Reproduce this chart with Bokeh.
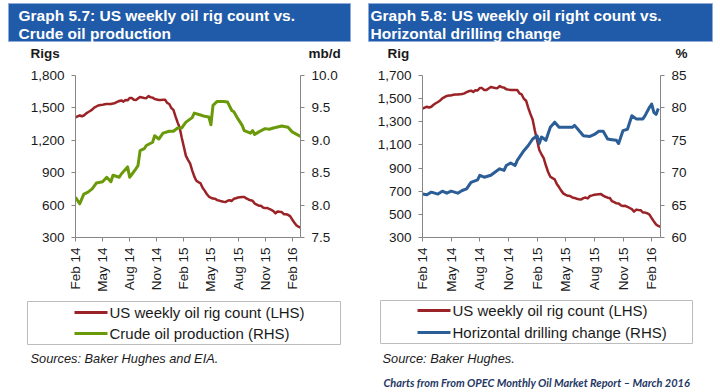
import math
import pandas as pd
from bokeh.plotting import figure
from bokeh.models import (Range1d, LinearAxis, FixedTicker, NumeralTickFormatter,
                          DatetimeTickFormatter)
from bokeh.core.properties import value
from bokeh.layouts import row, column
from bokeh.embed import file_html
from bokeh.resources import INLINE

# ---------------- data ----------------
week_start = "2014-02-07"
# US weekly oil rig count (Baker Hughes), weekly from Feb 7 2014
rig_count = [1413, 1422, 1430, 1423,
             1430, 1447, 1460, 1471,
             1484, 1502, 1513, 1523,
             1527, 1528, 1534, 1536, 1536,
             1537, 1540, 1546, 1556,
             1564, 1569, 1558, 1573,
             1570, 1592, 1591, 1575, 1574,
             1588, 1601, 1596, 1592,
             1590, 1609, 1599, 1595, 1582,
             1578, 1574, 1574, 1575,
             1575, 1546, 1536, 1499,
             1482, 1421, 1366, 1317, 1223,
             1140, 1056, 1019, 986,
             922, 866, 825, 813,
             802, 760, 734, 703,
             679, 668, 660, 659, 646,
             642, 635, 631, 628,
             640, 645, 638, 659, 664,
             670, 672, 674, 675,
             662, 652, 644, 641,
             614, 605, 595, 594, 578,
             572, 574, 564, 555,
             545, 524, 541, 538,
             536, 516, 515, 510, 498,
             467, 439, 413, 400,
             392]

# Crude oil production (mb/d): week number (from Feb 7 2014) and value
crude_week = [0, 2, 4, 6, 8, 10, 13, 15, 17, 18, 21, 22, 25, 26, 29, 30, 31, 33, 34,
              37, 38, 40, 42, 45, 47, 49, 51, 53, 56, 57, 60, 62, 64, 65, 66, 68, 71,
              73, 75, 76, 78, 80, 81, 84, 85, 86, 88, 91, 93, 95, 99, 102, 104, 108]
crude_prod = [8.12, 8.02, 8.17, 8.20, 8.25, 8.34, 8.36, 8.43, 8.36, 8.46, 8.43, 8.48,
              8.59, 8.43, 8.56, 8.61, 8.84, 8.87, 8.92, 8.97, 9.07, 9.02, 9.11, 9.14,
              9.14, 9.19, 9.19, 9.28, 9.35, 9.42, 9.39, 9.37, 9.36, 9.24, 9.54, 9.60,
              9.60, 9.59, 9.46, 9.44, 9.33, 9.23, 9.15, 9.11, 9.15, 9.09, 9.13, 9.18,
              9.17, 9.19, 9.22, 9.20, 9.13, 9.06]

# Horizontal drilling share (%): week number and value
horiz_week = [0, 2, 4, 7, 9, 11, 13, 16, 18, 20, 22, 25, 26, 28, 31, 33, 35, 37, 38,
              40, 42, 43, 46, 48, 50, 52, 53, 54, 56, 58, 60, 62, 65, 68, 69, 71, 73,
              76, 78, 80, 82, 84, 86, 88, 89, 91, 93, 95, 97, 100, 101, 103, 104, 105,
              106, 107]
horiz_share = [66.7, 66.6, 67.0, 66.7, 67.15, 66.84, 67.15, 66.84, 67.25, 67.5, 68.5,
               68.9, 69.6, 69.3, 69.6, 70.1, 70.6, 70.35, 71.1, 71.5, 71.1, 71.9, 73.4,
               74.2, 75.2, 75.7, 74.5, 75.5, 75.0, 77.0, 77.8, 77.0, 77.0, 77.0, 77.3,
               76.5, 75.7, 75.6, 75.9, 76.4, 76.4, 75.2, 75.1, 75.0, 74.5, 76.5, 76.7,
               78.8, 78.3, 78.3, 78.8, 80.1, 80.6, 79.3, 79.0, 79.9]

tick_dates = ["2014-02-07", "2014-05-09", "2014-08-08", "2014-11-07", "2015-02-06",
              "2015-05-08", "2015-08-07", "2015-11-06", "2016-02-05"]

left_lhs_ticks = [300, 600, 900, 1200, 1500, 1800]
left_rhs_ticks = [7.5, 8.0, 8.5, 9.0, 9.5, 10.0]
right_lhs_ticks = [300, 500, 700, 900, 1100, 1300, 1500, 1700]
right_rhs_ticks = [60, 65, 70, 75, 80, 85]

left_titles = ["Graph 5.7: US weekly oil rig count vs.", "Crude oil production"]
right_titles = ["Graph 5.8: US weekly oil right count vs.", "Horizontal drilling change"]
left_legend = ["US weekly oil rig count (LHS)", "Crude oil production (RHS)"]
right_legend = ["US weekly oil rig count (LHS)", "Horizontal drilling change (RHS)"]

# ---------------- styling ----------------
RED = "#9B2226"
GREEN = "#6A9A0A"
BLUE = "#2B5D97"
HEADER = "#1F5BA8"
FONT = "Liberation Sans"
TXT = "#1a1a1a"
AXC = "#868686"

HALF = 360
TOP_H = 64          # header strip height
CHART_H = 234       # chart strip height (64..298)
BOT_H = 392 - TOP_H - CHART_H
FRAME_TOP = 75
FRAME_BOT = 237

weeks = pd.date_range(week_start, periods=len(rig_count), freq="7D")
crude_dates = [weeks[i] for i in crude_week]
horiz_dates = [weeks[i] for i in horiz_week]
tick_ms = [pd.Timestamp(d).value // 10**6 for d in tick_dates]

dt_fmt = DatetimeTickFormatter(
    microseconds="%b %y", milliseconds="%b %y", seconds="%b %y", minsec="%b %y",
    minutes="%b %y", hourmin="%b %y", hours="%b %y", days="%b %y",
    months="%b %y", years="%b %y")


def deco(x0, y0, h):
    """Decoration strip whose data space is page pixels."""
    f = figure(width=HALF, height=h, x_range=Range1d(x0, x0 + HALF),
               y_range=Range1d(y0 + h, y0), output_backend="svg",
               toolbar_location=None, min_border=0, frame_align=False,
               x_axis_location=None, y_axis_location=None)
    f.outline_line_color = None
    f.grid.visible = False
    return f


def txt(f, x, y, s, size, style="normal", color=TXT, font=FONT):
    f.text(x=[x], y=[y], text=[s], text_font=value(font), text_font_size=value(size),
           text_font_style=style, text_color=color, text_align="left",
           text_baseline="middle")


def style_axis(ax):
    ax.axis_line_color = AXC
    ax.major_tick_line_color = AXC
    ax.major_tick_in = 0
    ax.major_tick_out = 4
    ax.minor_tick_line_color = None
    ax.major_label_text_font = FONT
    ax.major_label_text_font_size = "13.5px"
    ax.major_label_text_color = TXT
    ax.major_label_standoff = 7


def chart(x0, frame_l, frame_r, lhs, lhs_ticks, rhs, rhs_ticks, rhs_fmt, series):
    p = figure(width=HALF, height=CHART_H, x_axis_type="datetime", output_backend="svg",
               toolbar_location=None, frame_align=False,
               x_range=Range1d(weeks[0].to_pydatetime(), weeks[-1].to_pydatetime()),
               y_range=Range1d(*lhs),
               min_border_left=frame_l - x0, min_border_right=x0 + HALF - frame_r,
               min_border_top=FRAME_TOP - TOP_H,
               min_border_bottom=TOP_H + CHART_H - FRAME_BOT)
    p.extra_y_ranges = {"rhs": Range1d(*rhs)}
    p.outline_line_color = None
    p.grid.visible = False
    p.xaxis.ticker = FixedTicker(ticks=tick_ms)
    p.xaxis.formatter = dt_fmt
    p.xaxis.major_label_orientation = math.pi / 2
    p.yaxis.ticker = FixedTicker(ticks=lhs_ticks)
    p.yaxis.formatter = NumeralTickFormatter(format="0,0")
    rax = LinearAxis(y_range_name="rhs", ticker=FixedTicker(ticks=rhs_ticks),
                     formatter=NumeralTickFormatter(format=rhs_fmt))
    p.add_layout(rax, "right")
    for ax in [p.xaxis[0], p.yaxis[0], rax]:
        style_axis(ax)
    p.xaxis.major_label_standoff = 6
    for (xs, ys, col, lw, rng) in series:
        kw = {"y_range_name": rng} if rng else {}
        p.line(xs, ys, line_color=col, line_width=lw, line_join="round", **kw)
    return p


def header(x0, box_l, box_r, text_x, titles, unit_l, unit_l_x, unit_r, unit_r_x):
    f = deco(x0, 0, TOP_H)
    f.quad(left=box_l, right=box_r, top=3, bottom=41, fill_color=HEADER,
           line_color="#8FAADC", line_width=1)
    txt(f, text_x, 15, titles[0], "15.5px", "bold", "white")
    txt(f, text_x, 33, titles[1], "15.5px", "bold", "white")
    txt(f, unit_l_x, 53, unit_l, "13.5px", "bold")
    txt(f, unit_r_x, 53, unit_r, "13.5px", "bold")
    return f


def footer(x0, box, key_x, rows_y, labels, colors, source, source_x):
    f = deco(x0, TOP_H + CHART_H, BOT_H)
    bl, br, bt, bb = box
    f.quad(left=bl, right=br, top=bt, bottom=bb, fill_color=None,
           line_color="#BDBDBD", line_width=1)
    for y, lab, col in zip(rows_y, labels, colors):
        f.segment(x0=[key_x], x1=[key_x + 33], y0=[y], y1=[y], line_color=col,
                  line_width=3)
        txt(f, key_x + 35, y, lab, "15px")
    txt(f, source_x, 358, source, "12.8px", "italic")
    return f


# ---------------- left panel ----------------
top_l = header(0, 8, 350, 18, left_titles, "Rigs", 30, "mb/d", 308)
chart_l = chart(0, 75, 300, (300, 1800), left_lhs_ticks, (7.5, 10.0), left_rhs_ticks, "0.0",
                [(weeks, rig_count, RED, 2.5, None),
                 (crude_dates, crude_prod, GREEN, 3, "rhs")])
bot_l = footer(0, (27, 340, 301, 344), 74, [312, 333], left_legend, [RED, GREEN],
               "Sources: Baker Hughes and EIA.", 30)

# ---------------- right panel ----------------
top_r = header(360, 368, 712, 370, right_titles, "Rig", 387, "%", 675)
chart_r = chart(360, 422, 660, (300, 1700), right_lhs_ticks, (60, 85), right_rhs_ticks, "0",
                [(weeks, rig_count, RED, 2.5, None),
                 (horiz_dates, horiz_share, BLUE, 3, "rhs")])
bot_r = footer(360, (380, 692, 300, 343), 417, [310, 332], right_legend, [RED, BLUE],
               "Source: Baker Hughes.", 382)
txt(bot_r, 383, 382, "Charts from From OPEC Monthly Oil Market Report \u2013 March 2016",
    "11px", "bold italic", "#1F3864", "Lato")

layout = row(column(top_l, chart_l, bot_l), column(top_r, chart_r, bot_r))
open("out.html", "w").write(file_html(layout, INLINE))
